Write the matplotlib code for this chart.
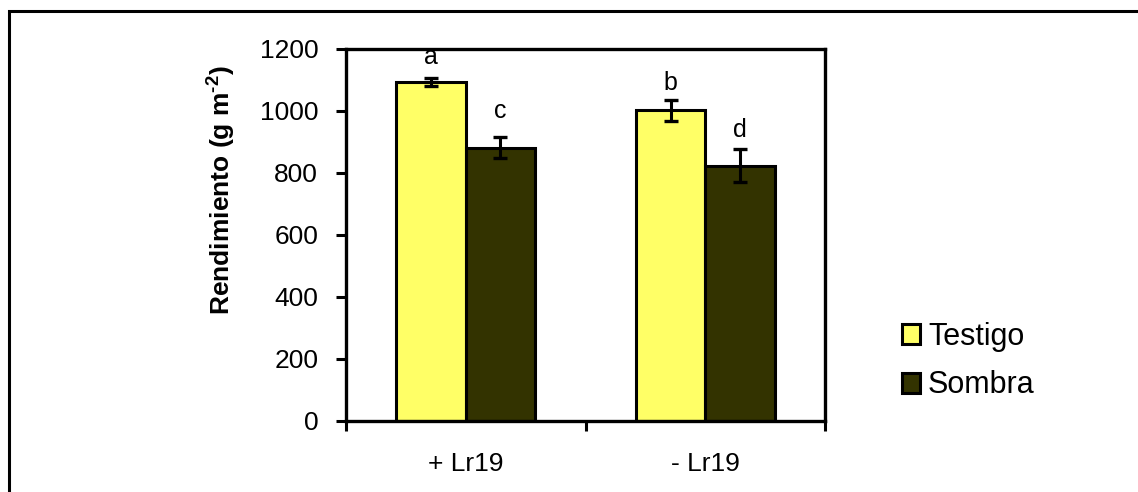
'''Bar chart of grain yield by Lr19 status and shading treatment'''
import matplotlib
matplotlib.use("Agg")
import matplotlib.pyplot as plt
from matplotlib.patches import Patch, Rectangle
from matplotlib.ticker import FixedLocator
import numpy as np

plt.rcParams['font.family'] = ['Liberation Sans', 'DejaVu Sans']
plt.rcParams['mathtext.fontset'] = 'custom'
plt.rcParams['mathtext.rm'] = 'Liberation Sans:bold'
plt.rcParams['mathtext.bf'] = 'Liberation Sans:bold'

# Data
groups = ['+ Lr19', '- Lr19']
treatments = ['Testigo', 'Sombra']
testigo = [1095, 1003]
testigo_err = [13, 34]
sombra = [882, 824]
sombra_err = [35, 54]
letters_testigo = ['a', 'b']
letters_sombra = ['c', 'd']
# heights (g m-2) where the significance letters sit
letter_y_testigo = [1152, 1068]
letter_y_sombra = [977, 916]

colors = ['#FFFF66', '#333300']

fig = plt.figure(figsize=(11.38, 4.92), dpi=100)
ax = fig.add_axes([346/1138, 1 - 421/492, (825 - 346)/1138, (421 - 49)/492])

x = np.arange(len(groups))
width = 0.29
err_kw = dict(ecolor='black', elinewidth=2.2, capsize=4.8, capthick=2.4)

bars1 = ax.bar(x - width/2, testigo, width, yerr=testigo_err, color=colors[0],
               edgecolor='black', linewidth=2.2, error_kw=err_kw, zorder=2)
bars2 = ax.bar(x + width/2, sombra, width, yerr=sombra_err, color=colors[1],
               edgecolor='black', linewidth=2.2, error_kw=err_kw, zorder=2)

# Significance letters
for xi, ly, lab in zip(x - width/2, letter_y_testigo, letters_testigo):
    ax.text(xi, ly, lab, ha='center', va='baseline', fontsize=18)
for xi, ly, lab in zip(x + width/2, letter_y_sombra, letters_sombra):
    ax.text(xi, ly, lab, ha='center', va='baseline', fontsize=18)

ax.set_xlim(-0.5, 1.5)
ax.set_ylim(0, 1200)
ax.set_yticks(range(0, 1201, 200))
ax.set_xticks(x)
ax.set_xticklabels(groups)
ax.xaxis.set_minor_locator(FixedLocator([-0.5, 0.5, 1.5]))
ax.tick_params(axis='x', which='major', length=0, pad=22, labelsize=19)
ax.tick_params(axis='x', which='minor', length=7, width=2.2, direction='out')
ax.tick_params(axis='y', length=7, width=2.2, direction='out', labelsize=19, pad=13)

for sp in ax.spines.values():
    sp.set_linewidth(2.4)

ax.set_ylabel('Rendimiento (g m$^{\\text{-2}}$)', fontsize=19, fontweight='bold')
ax.yaxis.set_label_coords(-0.228, 0.62)

handles = [Patch(facecolor=c, edgecolor='black', linewidth=2.2) for c in colors]
fig.legend(handles, treatments, loc='center left', bbox_to_anchor=(874/1138, 1 - 361/492),
           frameon=False, fontsize=22, handlelength=0.62, handleheight=0.62,
           handletextpad=0.25, labelspacing=0.62)

# Outer frame around the chart
fig.add_artist(Rectangle((8.5/1138, -0.2), 1.2, 1.2 - 11/492,
                         transform=fig.transFigure, fill=False,
                         edgecolor='black', linewidth=2.2))

fig.savefig('out.png', dpi=100)
